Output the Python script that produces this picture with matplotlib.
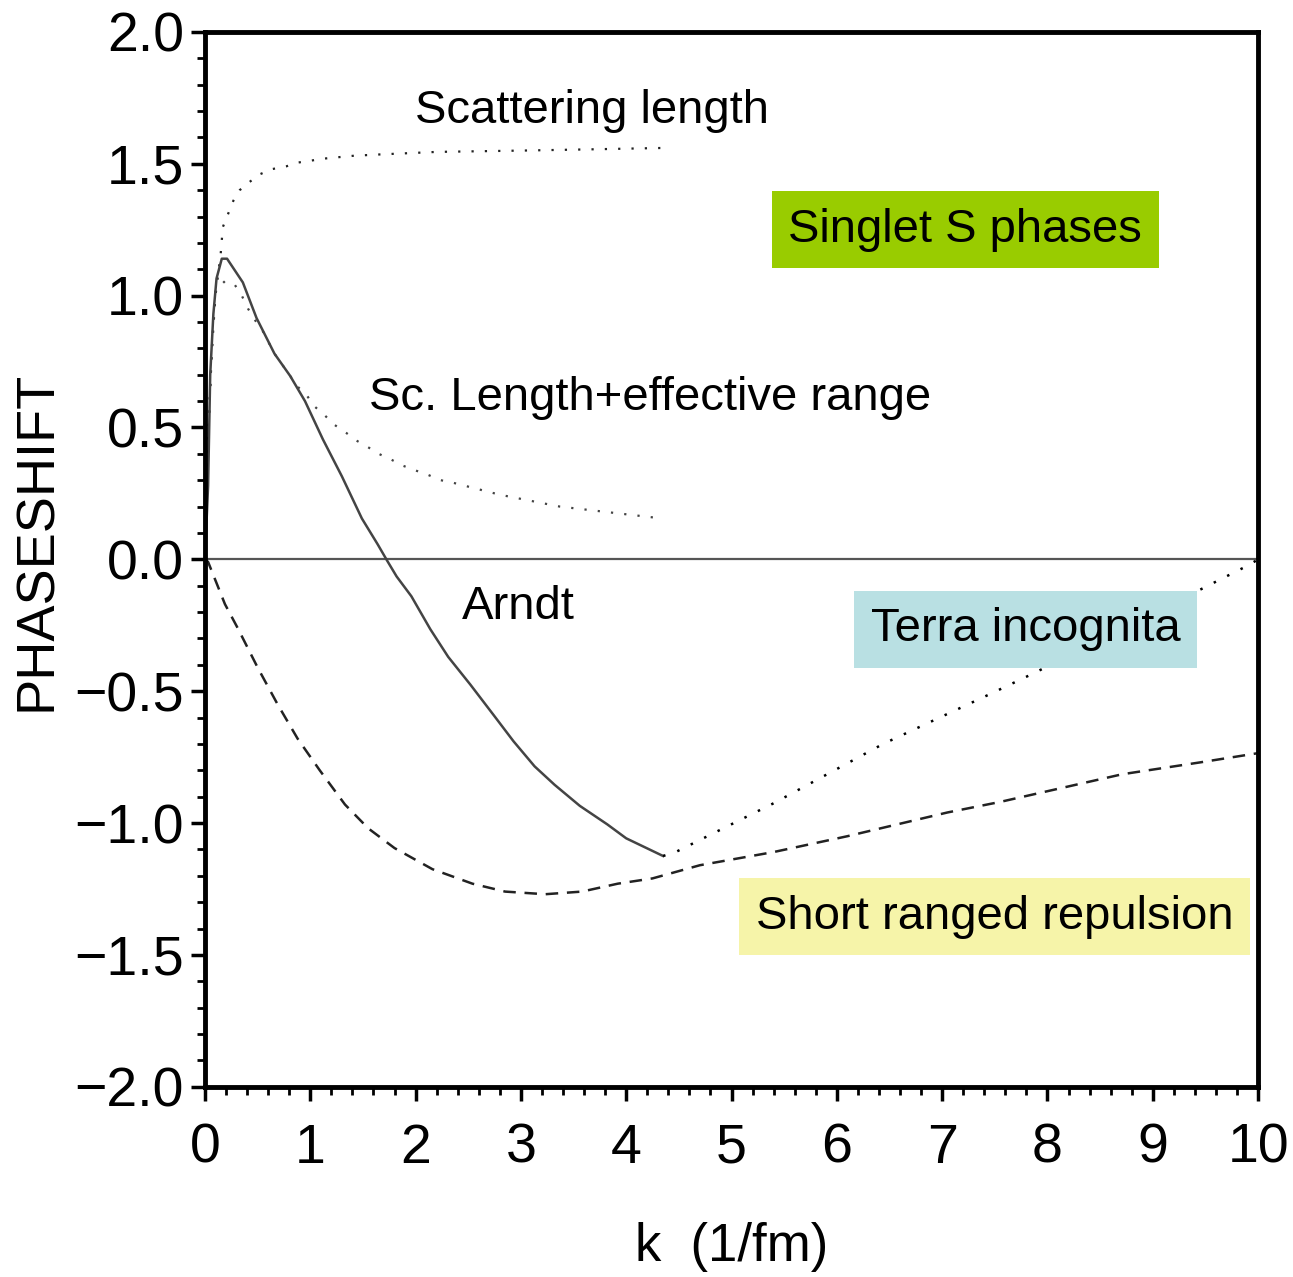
import matplotlib
matplotlib.use("Agg")
import matplotlib.pyplot as plt
from matplotlib.ticker import MultipleLocator, FuncFormatter

plt.rcParams['font.family'] = ['Liberation Sans', 'DejaVu Sans']

# scattering length only (dotted)
k_scat = [0.0, 0.02, 0.04, 0.06, 0.08, 0.10, 0.15, 0.17, 0.22, 0.27, 0.33, 0.42,
          0.52, 0.64, 0.77, 0.89, 1.14, 1.40, 1.64, 2.2, 3.0, 3.7, 4.35]
d_scat = [0.0, 0.30, 0.55, 0.74, 0.88, 1.00, 1.16, 1.26, 1.31, 1.36, 1.40, 1.43,
          1.46, 1.48, 1.49, 1.505, 1.52, 1.53, 1.535, 1.545, 1.55, 1.555, 1.56]

# scattering length + effective range (dotted)
k_ere = [0.0, 0.02, 0.04, 0.07, 0.10, 0.19, 0.285, 0.35, 0.41, 0.47, 0.55, 0.66,
         0.81, 0.88, 0.97, 1.04, 1.14, 1.23, 1.34, 1.44, 1.55, 1.65, 1.76, 1.88,
         2.0, 2.12, 2.24, 2.36, 2.8, 3.37, 4.34]
d_ere = [0.0, 0.30, 0.55, 0.84, 1.02, 1.055, 1.04, 1.00, 0.95, 0.91, 0.865, 0.78,
         0.695, 0.655, 0.62, 0.58, 0.545, 0.51, 0.48, 0.45, 0.425, 0.40, 0.38, 0.355,
         0.337, 0.32, 0.30, 0.29, 0.245, 0.20, 0.155]

# Arndt phase shift analysis (solid)
k_arndt = [0.0, 0.03, 0.05, 0.08, 0.11, 0.16, 0.21, 0.36, 0.49, 0.66, 0.81, 0.95,
           1.12, 1.30, 1.49, 1.64, 1.73, 1.82, 1.96, 2.14, 2.31, 2.52, 2.74, 2.93,
           3.13, 3.32, 3.56, 3.82, 4.0, 4.35]
d_arndt = [0.0, 0.28, 0.70, 0.93, 1.065, 1.14, 1.14, 1.05, 0.915, 0.78, 0.695, 0.60,
           0.455, 0.315, 0.155, 0.057, -0.005, -0.065, -0.14, -0.265, -0.37, -0.475,
           -0.59, -0.69, -0.785, -0.855, -0.935, -1.005, -1.058, -1.125]

# terra incognita (dotted)
k_terra = [4.35, 4.47, 5.4, 6.44, 7.46, 7.88, 9.45, 9.92, 10.0]
d_terra = [-1.125, -1.11, -0.925, -0.70, -0.51, -0.43, -0.115, -0.02, 0.0]

# short ranged repulsion (dashed)
k_rep = [0.0, 0.03, 0.19, 0.31, 0.5, 0.69, 0.88, 1.09, 1.33, 1.55, 1.8, 2.16, 2.54,
         2.85, 3.23, 3.58, 3.92, 4.25, 4.7, 5.4, 6.1, 7.05, 7.55, 8.71, 9.45, 10.0]
d_rep = [0.0, -0.01, -0.17, -0.26, -0.41, -0.55, -0.68, -0.80, -0.93, -1.02, -1.095,
         -1.175, -1.23, -1.26, -1.27, -1.26, -1.23, -1.21, -1.16, -1.11, -1.05, -0.96,
         -0.92, -0.815, -0.77, -0.735]

fig = plt.figure(figsize=(12.93, 12.77), dpi=100)
ax = fig.add_axes([0.1585, 0.149, 0.8145, 0.826])

ax.axhline(0, color='#555555', lw=1.6)
ax.plot(k_scat, d_scat, ls=(0, (1, 5)), color='#222222', lw=1.6)
ax.plot(k_ere, d_ere, ls=(0, (1, 5)), color='#444444', lw=1.6)
ax.plot(k_arndt, d_arndt, '-', color='#444444', lw=1.8)
ax.plot(k_terra, d_terra, ls=(0, (1, 5)), color='black', lw=1.8)
ax.plot(k_rep, d_rep, ls=(0, (5, 3.5)), color='#222222', lw=1.8)

ax.set_xlim(0, 10)
ax.set_ylim(-2, 2)
ax.xaxis.set_major_locator(MultipleLocator(1))
ax.xaxis.set_minor_locator(MultipleLocator(0.2))
ax.yaxis.set_major_locator(MultipleLocator(0.5))
ax.yaxis.set_minor_locator(MultipleLocator(0.1))
ax.yaxis.set_major_formatter(FuncFormatter(lambda v, p: f"{v:.1f}".replace('-', '\u2212')))
ax.tick_params(which='major', direction='out', length=10, width=2.5, labelsize=40)
ax.tick_params(axis='x', which='major', pad=16)
ax.tick_params(axis='y', which='major', pad=5)
ax.tick_params(which='minor', direction='out', length=6, width=2)
for s in ax.spines.values():
    s.set_linewidth(3.5)

ax.set_xlabel('k  (1/fm)', fontsize=38, va='top')
ax.xaxis.set_label_coords(0.5, -0.128)
ax.set_ylabel('PHASESHIFT', fontsize=39)
ax.yaxis.set_label_coords(-0.136, 0.5175)

ax.text(3.68, 1.70, 'Scattering length', fontsize=34, ha='center', va='center')
ax.text(4.23, 0.61, 'Sc. Length+effective range', fontsize=34, ha='center', va='center')
ax.text(2.98, -0.18, 'Arndt', fontsize=34, ha='center', va='center')

box = dict(boxstyle='square,pad=0.35', ec='none')
ax.text(7.22, 1.25, 'Singlet S phases', fontsize=34, ha='center', va='center',
        bbox=dict(box, fc='#99cc00'))
ax.text(7.79, -0.265, 'Terra incognita', fontsize=34, ha='center', va='center',
        bbox=dict(box, fc='#b9e0e3'))
ax.text(7.5, -1.355, 'Short ranged repulsion', fontsize=34, ha='center', va='center',
        bbox=dict(box, fc='#f6f4a9'))

fig.savefig('out.png', dpi=100)
